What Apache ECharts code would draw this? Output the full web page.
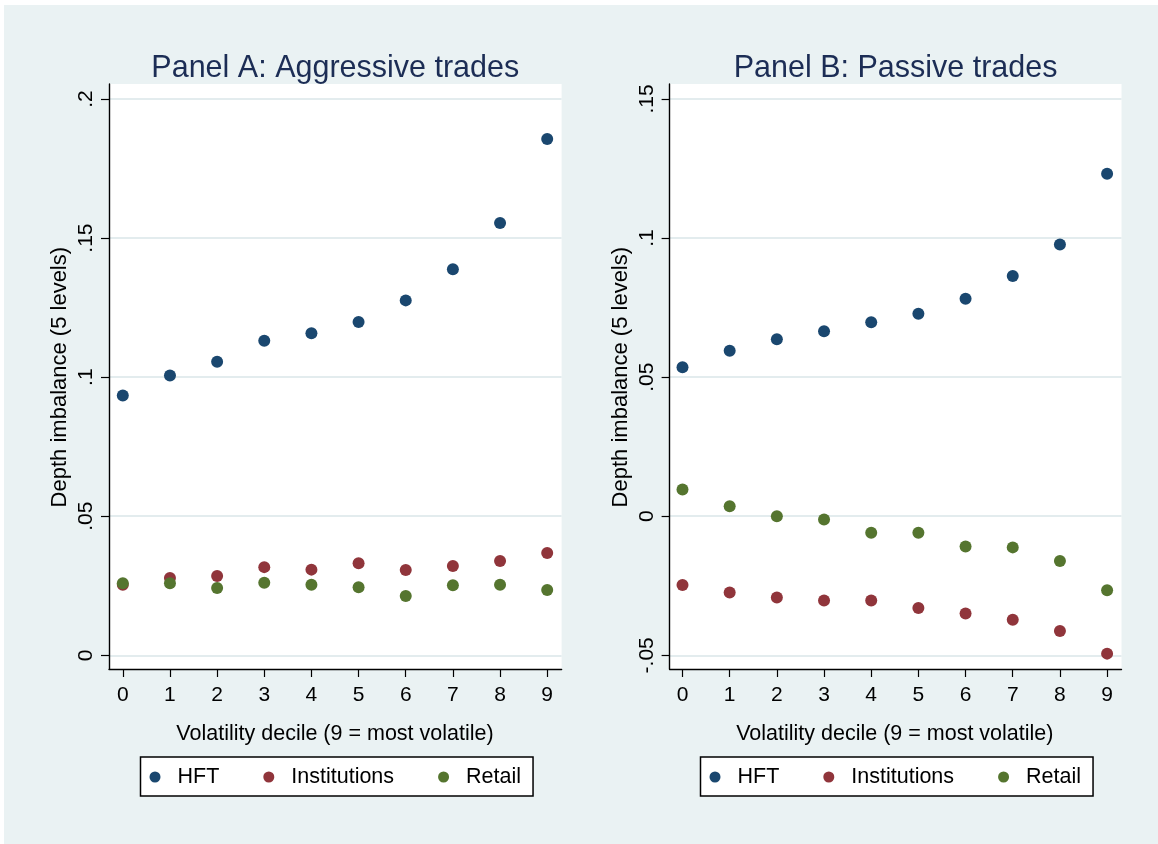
<!DOCTYPE html>
<html>
<head>
<meta charset="utf-8">
<script src="https://cdn.jsdelivr.net/npm/echarts@6/dist/echarts.min.js"></script>
<style>
html,body{margin:0;padding:0;background:#ffffff;}
#chart{width:1158px;height:844px;}
</style>
</head>
<body>
<div id="chart"></div>
<script>
// ---------- data ----------
var deciles = [0, 1, 2, 3, 4, 5, 6, 7, 8, 9];
var seriesNames = ['HFT', 'Institutions', 'Retail'];

var aggHFT    = [0.0934, 0.1006, 0.1055, 0.1131, 0.1158, 0.1198, 0.1276, 0.1388, 0.1554, 0.1856];
var aggInst   = [0.0254, 0.0278, 0.0285, 0.0317, 0.0308, 0.0331, 0.0307, 0.0321, 0.0339, 0.0368];
var aggRetail = [0.0259, 0.0259, 0.0242, 0.0261, 0.0254, 0.0245, 0.0213, 0.0252, 0.0254, 0.0235];

var pasHFT    = [0.0536, 0.0595, 0.0636, 0.0665, 0.0697, 0.0728, 0.0782, 0.0864, 0.0977, 0.1231];
var pasInst   = [-0.0247, -0.0274, -0.0292, -0.0303, -0.0303, -0.0330, -0.0350, -0.0372, -0.0413, -0.0494];
var pasRetail = [0.0096, 0.0036, 0.0000, -0.0012, -0.0059, -0.0059, -0.0109, -0.0112, -0.0161, -0.0266];

var yTicksA = [0, 0.05, 0.1, 0.15, 0.2];
var yTicksB = [-0.05, 0, 0.05, 0.1, 0.15];
var xTicks  = [0, 9];

var titleA = 'Panel A: Aggressive trades';
var titleB = 'Panel B: Passive trades';
var xName = 'Volatility decile (9 = most volatile)';
var yName = 'Depth imbalance (5 levels)';

// ---------- style ----------
var FONT = "'Liberation Sans', Arial, Helvetica, sans-serif";
var COLORS = ['#1a476f', '#90353b', '#55752f'];
var BG = '#EAF2F3';
var GRIDLINE = '#E3ECEE';

function fmtTick(v) {
  if (Math.abs(v) < 1e-12) return '0';
  var s = String(Math.round(v * 1000) / 1000);
  return s.replace(/^(-?)0\./, '$1.');
}

// layout per panel (pixels)
var panels = [
  {title: titleA, series: [aggHFT, aggInst, aggRetail], yTicks: yTicksA,
   L: 109, R: 561.6, T: 84, B: 669, x0: 122.8, x9: 547.2, yTop: 99, yBot: 655.3, legendLeft: 140.5},
  {title: titleB, series: [pasHFT, pasInst, pasRetail], yTicks: yTicksB,
   L: 669.6, R: 1121.5, T: 84, B: 669, x0: 682.5, x9: 1107.1, yTop: 99, yBot: 655.3, legendLeft: 700.5}
];

var grid = [], xAxis = [], yAxis = [], series = [], title = [], legend = [];

panels.forEach(function (p, pi) {
  var tMin = p.yTicks[0], tMax = p.yTicks[p.yTicks.length - 1];
  var pxPerVal = (p.yBot - p.yTop) / (tMax - tMin);
  var dataYMin = tMin - (p.B - p.yBot) / pxPerVal;
  var dataYMax = tMax + (p.yTop - p.T) / pxPerVal;
  var xMinT = xTicks[0], xMaxT = xTicks[1];
  var pxPerX = (p.x9 - p.x0) / (xMaxT - xMinT);
  var dataXMin = xMinT - (p.x0 - p.L) / pxPerX;
  var dataXMax = xMaxT + (p.R - p.x9) / pxPerX;
  var base = pi * 3;

  // grid 0: data + axis lines
  grid.push({left: p.L, top: p.T, width: p.R - p.L, height: p.B - p.T,
             show: true, backgroundColor: '#ffffff', borderWidth: 0, containLabel: false});
  // grid 1: y ticks / labels / gridlines
  grid.push({left: p.L, top: p.yTop, width: p.R - p.L, height: p.yBot - p.yTop, containLabel: false});
  // grid 2: x ticks / labels
  grid.push({left: p.x0, top: p.T, width: p.x9 - p.x0, height: p.B - p.T, containLabel: false});

  // x axes
  xAxis.push({type: 'value', gridIndex: base, min: dataXMin, max: dataXMax,
    axisLine: {show: true, onZero: false, lineStyle: {color: '#000', width: 1.4}},
    axisTick: {show: false}, axisLabel: {show: false}, splitLine: {show: false}});
  xAxis.push({type: 'value', gridIndex: base + 1, min: 0, max: 1, show: false});
  xAxis.push({type: 'value', gridIndex: base + 2, min: xMinT, max: xMaxT, interval: 1,
    name: xName, nameLocation: 'middle', nameGap: 54,
    nameTextStyle: {fontFamily: FONT, fontSize: 21.5, color: '#000'},
    axisLine: {show: false, onZero: false},
    axisTick: {show: true, length: 8, lineStyle: {color: '#000', width: 1.2}},
    axisLabel: {show: true, margin: 16, fontFamily: FONT, fontSize: 21, color: '#000'},
    splitLine: {show: false}});

  // y axes
  yAxis.push({type: 'value', gridIndex: base, min: dataYMin, max: dataYMax,
    axisLine: {show: true, onZero: false, lineStyle: {color: '#000', width: 1.4}},
    axisTick: {show: false}, axisLabel: {show: false}, splitLine: {show: false}});
  yAxis.push({type: 'value', gridIndex: base + 1, min: tMin, max: tMax, interval: 0.05,
    name: yName, nameLocation: 'middle', nameGap: 38,
    nameTextStyle: {fontFamily: FONT, fontSize: 22, color: '#000'},
    axisLine: {show: false, onZero: false},
    axisTick: {show: true, length: 8, lineStyle: {color: '#000', width: 1.2}},
    axisLabel: {show: true, rotate: 90, margin: 12, fontFamily: FONT, fontSize: 21, color: '#000',
                formatter: fmtTick},
    splitLine: {show: true, lineStyle: {color: GRIDLINE, width: 2}}});
  yAxis.push({type: 'value', gridIndex: base + 2, min: 0, max: 1, show: false});

  // series
  p.series.forEach(function (vals, si) {
    series.push({
      type: 'scatter', name: seriesNames[si],
      xAxisIndex: base, yAxisIndex: base,
      symbol: 'circle', symbolSize: 12,
      itemStyle: {color: COLORS[si], opacity: 1},
      emphasis: {disabled: true},
      data: deciles.map(function (d, i) { return [d, vals[i]]; })
    });
  });

  title.push({text: p.title, left: (p.L + p.R) / 2, textAlign: 'center', top: 53, padding: 0,
    textStyle: {fontFamily: FONT, fontSize: 30.5, fontWeight: 'normal', color: '#1c2d55'}});

  legend.push({data: seriesNames.slice(), left: p.legendLeft, top: 757,
    orient: 'horizontal', icon: 'circle', itemWidth: 11, itemHeight: 11, itemGap: 44,
    padding: [9, 12, 8, 9], backgroundColor: '#ffffff', borderColor: '#000', borderWidth: 1.5,
    borderRadius: 0, selectedMode: false,
    textStyle: {fontFamily: FONT, fontSize: 21.5, color: '#000', padding: [3, 0, 0, 12]}});
});

var chart = echarts.init(document.getElementById('chart'), null, {renderer: 'canvas'});
chart.setOption({
  animation: false,
  color: COLORS,
  textStyle: {fontFamily: FONT},
  graphic: [{type: 'rect', z: -100, silent: true,
    shape: {x: 4, y: 5, width: 1154, height: 839}, style: {fill: BG}}],
  title: title,
  legend: legend,
  grid: grid,
  xAxis: xAxis,
  yAxis: yAxis,
  series: series
});
</script>
</body>
</html>
